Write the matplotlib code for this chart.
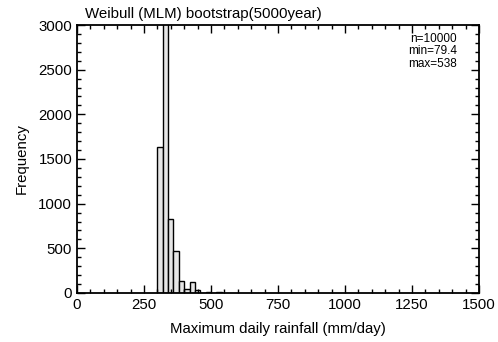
import matplotlib
matplotlib.use("Agg")
import matplotlib.pyplot as plt
from matplotlib.ticker import MultipleLocator

plt.rcParams['font.family'] = ['Liberation Sans', 'DejaVu Sans']

# histogram of bootstrapped maxima (bin left edges, 20 mm wide)
bin_left = [300, 320, 340, 360, 380, 400, 420, 440, 460, 480, 500, 520]
counts = [1630, 6716, 830, 470, 138, 41, 120, 30, 5, 10, 2, 8]
bin_width = 20

fs = 10.8

fig = plt.figure(figsize=(4.98, 3.42), dpi=100)
ax = fig.add_axes([0.1546, 0.1433, 0.8072, 0.7836])

ax.bar(bin_left, counts, width=bin_width, align='edge',
       color='#e6e6e6', edgecolor='black', linewidth=1.0)

ax.set_xlim(0, 1500)
ax.set_ylim(0, 3000)
ax.xaxis.set_major_locator(MultipleLocator(250))
ax.xaxis.set_minor_locator(MultipleLocator(50))
ax.yaxis.set_major_locator(MultipleLocator(500))
ax.yaxis.set_minor_locator(MultipleLocator(100))
ax.tick_params(which='both', direction='in', top=True, right=True, labelsize=fs)
ax.tick_params(which='major', length=6, width=1)
ax.tick_params(which='minor', length=3, width=1)
for s in ax.spines.values():
    s.set_linewidth(1.3)

ax.set_xlabel("Maximum daily rainfall (mm/day)", fontsize=fs, labelpad=7)
ax.set_ylabel("Frequency", fontsize=fs, labelpad=7)
ax.text(0.02, 1.015, "Weibull (MLM) bootstrap(5000year)", transform=ax.transAxes,
        ha='left', va='bottom', fontsize=fs)

# stats box
ax.text(0.945, 0.972, "n=10000\nmin=79.4\nmax=538", transform=ax.transAxes,
        ha='right', va='top', fontsize=8.5, linespacing=1.1)

fig.savefig("out.png", dpi=100)
